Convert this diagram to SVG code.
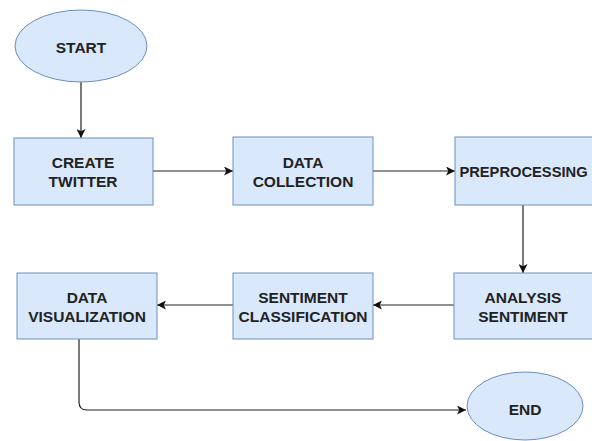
<svg xmlns="http://www.w3.org/2000/svg" width="592" height="441" viewBox="0 0 592 441">
<style>
.n{fill:#dae8fc;stroke:#6c8ebf;stroke-width:1}
.t{font-family:"Liberation Sans",Arial,sans-serif;font-weight:bold;font-size:15.5px;fill:#222;text-anchor:middle}
.c{fill:none;stroke:#222;stroke-width:1.2}
</style>
<defs>
<marker id="a" viewBox="0 0 10 10" refX="10" refY="5" markerWidth="9" markerHeight="9" markerUnits="userSpaceOnUse" orient="auto">
<path d="M0,0 L10,5 L0,10 L2.5,5 Z" fill="#111"/>
</marker>
</defs>
<rect width="592" height="441" fill="#fff"/>
<g id="connectors">
<path class="c" d="M81,82 V138" marker-end="url(#a)"/>
<path class="c" d="M153,171 H233" marker-end="url(#a)"/>
<path class="c" d="M373,171 H455" marker-end="url(#a)"/>
<path class="c" d="M523,205 V273" marker-end="url(#a)"/>
<path class="c" d="M454,305 H373" marker-end="url(#a)"/>
<path class="c" d="M233,305 H157" marker-end="url(#a)"/>
<path class="c" d="M79,339 V402 Q79,410 87,410 H466" marker-end="url(#a)"/>
</g>
<g id="start">
<ellipse class="n" cx="81" cy="46" rx="66" ry="36"/>
<text class="t" x="81" y="53">START</text>
</g>
<g id="create-twitter">
<rect class="n" x="14" y="138" width="139" height="67"/>
<text class="t" x="83" y="168">CREATE</text>
<text class="t" x="83" y="187">TWITTER</text>
</g>
<g id="data-collection">
<rect class="n" x="233" y="137" width="140" height="68"/>
<text class="t" x="303" y="168">DATA</text>
<text class="t" x="303" y="187">COLLECTION</text>
</g>
<g id="preprocessing">
<rect class="n" x="455" y="137" width="140" height="68"/>
<text class="t" x="523.5" y="177" style="font-size:14.7px">PREPROCESSING</text>
</g>
<g id="analysis-sentiment">
<rect class="n" x="454" y="273" width="140" height="66"/>
<text class="t" x="523" y="303">ANALYSIS</text>
<text class="t" x="523" y="322">SENTIMENT</text>
</g>
<g id="sentiment-classification">
<rect class="n" x="233" y="273" width="140" height="66"/>
<text class="t" x="303" y="303">SENTIMENT</text>
<text class="t" x="303" y="322">CLASSIFICATION</text>
</g>
<g id="data-visualization">
<rect class="n" x="17" y="273" width="140" height="66"/>
<text class="t" x="87" y="303">DATA</text>
<text class="t" x="87" y="322">VISUALIZATION</text>
</g>
<g id="end">
<ellipse class="n" cx="525" cy="406" rx="58" ry="34"/>
<text class="t" x="525" y="415">END</text>
</g>
</svg>
